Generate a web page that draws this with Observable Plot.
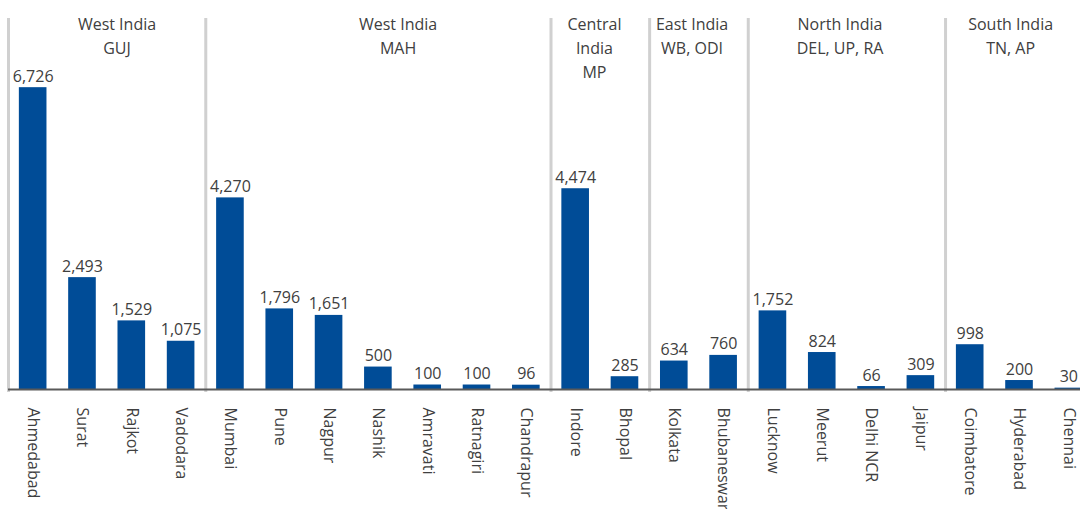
<!DOCTYPE html>
<html><head><meta charset="utf-8">
<script src="https://cdn.jsdelivr.net/npm/d3@7"></script>
<script src="https://cdn.jsdelivr.net/npm/@observablehq/plot@0.6"></script>
<style>html,body{margin:0;padding:0;background:#fff;overflow:hidden;width:1080px;height:509px}#chart svg{max-width:none !important;}</style>
</head><body><div id="chart"></div>
<script>
const cities = ["Ahmedabad","Surat","Rajkot","Vadodara","Mumbai","Pune","Nagpur","Nashik","Amravati","Ratnagiri","Chandrapur","Indore","Bhopal","Kolkata","Bhubaneswar","Lucknow","Meerut","Delhi NCR","Jaipur","Coimbatore","Hyderabad","Chennai"];
const values = [6726,2493,1529,1075,4270,1796,1651,500,100,100,96,4474,285,634,760,1752,824,66,309,998,200,30];
const groupLabels = ["West India\nGUJ","West India\nMAH","Central\nIndia\nMP","East India\nWB, ODI","North India\nDEL, UP, RA","South India\nTN, AP"];
const groupSizes = [4,7,2,2,4,3];
// header text-box offsets, in band widths (layout only)
const headerShift = [0.2, 0.4, -0.12, -0.14, -0.14, -0.18];

const bars = cities.map((c,i)=>({i, city:c, value:values[i]}));
let acc = 0;
const groups = groupLabels.map((label,k)=>{const start=acc; acc+=groupSizes[k]; return {label, start, center:start+groupSizes[k]/2+headerShift[k]};});
const boundaries = groups.map(g=>g.start);
const fmt = d3.format(",");
const ink = "#404040";

const chart = Plot.plot({
  width: 1094, height: 509,
  marginLeft: 8, marginRight: 1, marginTop: 30, marginBottom: 120,
  style: {fontFamily: "'Open Sans', sans-serif", background: "#fff", maxWidth: "none"},
  x: {domain: [0, cities.length], axis: null},
  y: {domain: [0, 8000], axis: null},
  marks: [
    Plot.ruleX(boundaries, {x: d=>d, stroke: "#d0d0d0", strokeWidth: 3, insetTop: -12, insetBottom: -3}),
    Plot.rectY(bars, {x1: d=>d.i+0.22, x2: d=>d.i+0.78, y1: 0, y2: "value", fill: "#004C97"}),
    Plot.ruleY([0], {stroke: "#595959", strokeWidth: 2}),
    Plot.text(bars, {x: d=>d.i+0.5, y: "value", text: d=>fmt(d.value), lineAnchor: "bottom", dy: -6, fontSize: 16, fill: ink}),
    Plot.axisX(bars.map(d=>d.i+0.5), {tickFormat: d=>cities[Math.floor(d)], tickRotate: 90, tickSize: 0, tickPadding: 18, fontSize: 16, fill: ink, label: null}),
    Plot.text(groups, {x: "center", frameAnchor: "top", text: "label", lineAnchor: "top", dy: -18, lineHeight: 1.5, fontSize: 16, fill: ink})
  ]
});
chart.style.maxWidth = "none";
document.getElementById("chart").appendChild(chart);
</script>
</body></html>
